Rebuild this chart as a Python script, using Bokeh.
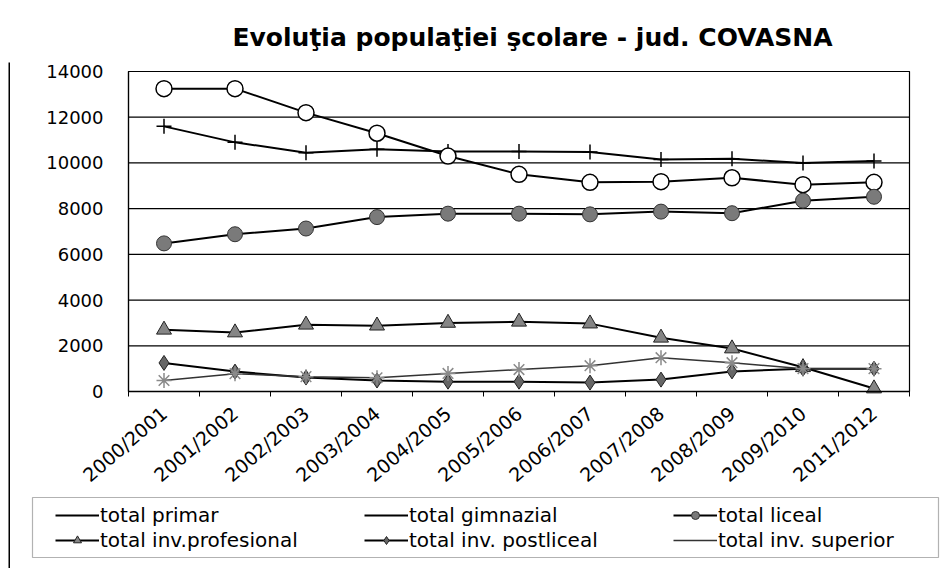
from bokeh.plotting import figure
from bokeh.models import FixedTicker, Legend, LegendItem, Range1d, BoxAnnotation
from bokeh.embed import file_html
from bokeh.resources import INLINE

# ---------------- data ----------------
years = ["2000/2001", "2001/2002", "2002/2003", "2003/2004", "2004/2005", "2005/2006",
         "2006/2007", "2007/2008", "2008/2009", "2009/2010", "2011/2012"]
primar = [11600, 10900, 10450, 10600, 10500, 10500, 10480, 10150, 10180, 10000, 10080]
gimnazial = [13250, 13250, 12200, 11300, 10300, 9500, 9150, 9180, 9350, 9050, 9150]
liceal = [6480, 6880, 7130, 7630, 7780, 7780, 7750, 7870, 7800, 8350, 8520]
profesional = [2700, 2580, 2920, 2880, 3000, 3050, 2970, 2350, 1880, 1060, 130]
postliceal = [1250, 870, 610, 480, 430, 430, 390, 520, 880, 1000, 1000]
superior = [480, 780, 650, 600, 790, 960, 1130, 1480, 1260, 1000, 1000]
y_ticks = [0, 2000, 4000, 6000, 8000, 10000, 12000, 14000]
title_text = "Evoluţia populaţiei şcolare - jud. COVASNA"
labels = ["total primar", "total gimnazial", "total liceal",
          "total inv.profesional", "total inv. postliceal", "total inv. superior"]

FONT = "DejaVu Sans"
x = list(range(len(years)))

# ---------------- layout constants (pixels) ----------------
W, H = 945, 568          # canvas
FT = 62                  # frame top (title sits above)
PL, PR, PT, PB = 128, 909, 71, 391   # plot-area box inside the frame

x_lo, x_hi = x[0] - 0.5, x[-1] + 0.5
y_lo, y_hi = y_ticks[0], y_ticks[-1]
upx = (PR - PL) / (x_hi - x_lo)
upy = (PB - PT) / (y_hi - y_lo)
x_range = Range1d(x_lo - PL / upx, x_hi + (W - PR) / upx)
y_range = Range1d(y_lo - (H - PB) / upy, y_hi + (PT - FT) / upy)

p = figure(width=W, height=H, x_range=x_range, y_range=y_range,
           output_backend="svg", toolbar_location=None,
           min_border_left=0, min_border_right=0, min_border_top=FT, min_border_bottom=0,
           title=title_text)
p.title.text_font = FONT
p.title.text_font_size = "25px"
p.title.text_font_style = "bold"
p.title.text_color = "black"
p.title.align = "left"
p.title.offset = 232
p.title.standoff = 21

p.outline_line_color = None
p.background_fill_color = "white"
p.border_fill_color = "white"
p.grid.visible = False

# axes placed at the plot-area edges
p.xaxis.fixed_location = y_lo
p.xaxis.bounds = (x_lo, x_hi)
p.xaxis.ticker = FixedTicker(ticks=x, minor_ticks=[i - 0.5 for i in range(len(years) + 1)])
p.xaxis.major_label_overrides = {i: lab for i, lab in enumerate(years)}
p.xaxis.major_label_orientation = 0.71
p.xaxis.major_tick_out = 0
p.xaxis.major_tick_in = 0
p.xaxis.minor_tick_out = 5
p.xaxis.minor_tick_in = 0
p.xaxis.minor_tick_line_color = "black"
p.xaxis.axis_line_color = "black"
p.xaxis.axis_line_width = 1.5
p.xaxis.major_label_standoff = 14
p.xaxis.major_label_text_font = FONT
p.xaxis.major_label_text_font_size = "19px"
p.xaxis.major_label_text_color = "black"

p.yaxis.fixed_location = x_lo
p.yaxis.bounds = (y_lo, y_hi)
p.yaxis.ticker = FixedTicker(ticks=y_ticks)
p.yaxis.major_tick_out = 0
p.yaxis.major_tick_in = 0
p.yaxis.minor_tick_line_color = None
p.yaxis.axis_line_color = "black"
p.yaxis.axis_line_width = 1.2
p.yaxis.major_label_standoff = 25
p.yaxis.major_label_text_font = FONT
p.yaxis.major_label_text_font_size = "18px"
p.yaxis.major_label_text_color = "black"

# horizontal gridlines and plot-area border
n = len(y_ticks)
p.segment(x0=[x_lo] * n, y0=y_ticks, x1=[x_hi] * n, y1=y_ticks, line_color="black", line_width=1.2)
p.quad(left=[x_lo], right=[x_hi], bottom=[y_lo], top=[y_hi], fill_color=None,
       line_color="black", line_width=1.2)

# total primar
l_pr = p.line(x, primar, line_color="black", line_width=2)
p.scatter(x, primar, marker="cross", size=15, line_color="black", line_width=1.5)
# total gimnazial
l_gi = p.line(x, gimnazial, line_color="black", line_width=2)
p.scatter(x, gimnazial, marker="circle", size=16, fill_color="white", line_color="black", line_width=1.5)
# total liceal
l_li = p.line(x, liceal, line_color="black", line_width=2)
m_li = p.scatter(x, liceal, marker="circle", size=15, fill_color="#7a7a7a", line_color="#333333", line_width=1)
# total inv.profesional
l_pf = p.line(x, profesional, line_color="black", line_width=2)
m_pf = p.scatter(x, profesional, marker="triangle", size=15, fill_color="#858585", line_color="#222222", line_width=1)
# total inv. postliceal
l_po = p.line(x, postliceal, line_color="black", line_width=2)
m_po = p.scatter(x, postliceal, marker="diamond", size=15, fill_color="#666666", line_color="#222222", line_width=1)
# total inv. superior
l_su = p.line(x, superior, line_color="#333333", line_width=1.5)
p.scatter(x, superior, marker="asterisk", size=15, line_color="#8a8a8a", line_width=1.5)

legend = Legend(items=[
    LegendItem(label=labels[0], renderers=[l_pr]),
    LegendItem(label=labels[1], renderers=[l_gi]),
    LegendItem(label=labels[2], renderers=[l_li, m_li]),
    LegendItem(label=labels[3], renderers=[l_pf, m_pf]),
    LegendItem(label=labels[4], renderers=[l_po, m_po]),
    LegendItem(label=labels[5], renderers=[l_su]),
], orientation="horizontal", ncols=3, location=(47, 8))
legend.border_line_alpha = 0
legend.background_fill_alpha = 0
legend.label_text_font = FONT
legend.label_text_font_size = "20px"
legend.label_text_color = "black"
legend.glyph_width = 44
legend.glyph_height = 20
legend.label_height = 20
legend.label_standoff = 1
legend.label_width = 263
legend.spacing = 1
legend.padding = 8
legend.margin = 0
p.add_layout(legend)

# legend frame and the chart's left border line (canvas pixels)
p.add_layout(BoxAnnotation(left=32, right=938, top=497, bottom=557,
                           left_units="canvas", right_units="canvas",
                           top_units="canvas", bottom_units="canvas",
                           fill_alpha=0, line_color="black", line_width=1.2))
p.add_layout(BoxAnnotation(left=8, right=9.5, top=14, bottom=H,
                           left_units="canvas", right_units="canvas",
                           top_units="canvas", bottom_units="canvas",
                           fill_color="black", fill_alpha=1, line_alpha=0))

open("out.html", "w").write(file_html(p, INLINE))
